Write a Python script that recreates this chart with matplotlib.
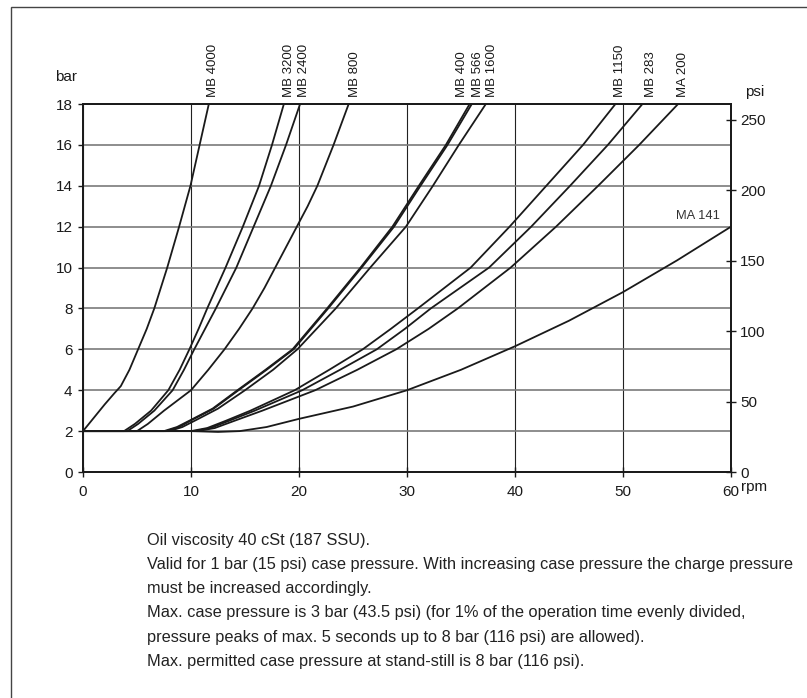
import matplotlib.pyplot as plt
from matplotlib.patches import Rectangle

# Datos (rpm, bar)
rpm_mb4000 = [0, 1.0, 2.0, 2.9, 3.5, 4.3, 5.1, 5.9, 6.6, 7.8, 8.9, 9.95, 10.8, 11.65]
bar_mb4000 = [2, 2.65, 3.3, 3.85, 4.2, 5.0, 6.0, 7.0, 8.0, 10, 12, 14, 16, 18]

bar_std = [2, 2, 2.35, 3.0, 4, 5, 6, 7, 8, 9, 10, 11, 12, 13, 14, 15, 16, 17, 18]
rpm_mb3200 = [0, 3.8, 4.8, 6.3, 7.9, 8.95, 9.85, 10.7, 11.5, 12.35, 13.2, 14.0, 14.8, 15.55,
              16.3, 16.9, 17.5, 18.05, 18.6]
rpm_mb2400 = [0, 4.1, 5.1, 6.6, 8.3, 9.35, 10.3, 11.3, 12.3, 13.25, 14.2, 15.0, 15.8, 16.6,
              17.4, 18.1, 18.8, 19.45, 20.1]
rpm_mb800 = [0, 5.0, 6.0, 7.5, 10.0, 11.6, 13.1, 14.45, 15.7, 16.8, 17.8, 18.8, 19.8, 20.8,
             21.7, 22.45, 23.2, 23.9, 24.6]

bar_mid = [2, 2, 2.2, 2.55, 3.1, 4.0, 5.0, 6, 8, 10, 12, 14, 16, 18]
rpm_mb400 = [0, 7.5, 8.7, 10.0, 12.0, 14.3, 16.9, 19.4, 22.6, 25.7, 28.65, 31.1, 33.6, 35.8]
rpm_mb566 = [0, 7.7, 8.9, 10.1, 12.1, 14.4, 17.0, 19.5, 22.7, 25.8, 28.8, 31.25, 33.75, 36.0]
rpm_mb1600 = [0, 8.0, 9.2, 10.5, 12.5, 15.0, 17.6, 19.85, 23.4, 26.6, 29.9, 32.4, 34.8, 37.3]

bar_low = [2, 2, 2.15, 2.5, 3.0, 4, 5, 6, 7, 8, 10, 12, 14, 16, 18]
rpm_mb1150 = [0, 10.0, 11.5, 13.2, 15.5, 19.6, 22.8, 25.9, 28.5, 31.0, 35.9, 39.5, 42.9, 46.3, 49.3]
rpm_mb283 = [0, 10.3, 11.8, 13.5, 15.9, 20.3, 23.8, 27.2, 29.8, 32.2, 37.6, 41.5, 45.1, 48.6, 51.8]
rpm_ma200 = [0, 10.6, 12.2, 14.0, 16.6, 21.5, 25.4, 29.0, 32.0, 34.7, 39.6, 43.8, 47.7, 51.5, 55.1]

rpm_ma141 = [0, 10, 12.5, 14.5, 17, 20, 25, 30, 35, 40, 45, 50, 55, 60]
bar_ma141 = [2, 2, 1.96, 2.0, 2.2, 2.6, 3.2, 4.0, 5.0, 6.15, 7.4, 8.8, 10.35, 12.0]

curvas = [
    (rpm_mb4000, bar_mb4000), (rpm_mb3200, bar_std), (rpm_mb2400, bar_std),
    (rpm_mb800, bar_std), (rpm_mb400, bar_mid), (rpm_mb566, bar_mid),
    (rpm_mb1600, bar_mid), (rpm_mb1150, bar_low), (rpm_mb283, bar_low),
    (rpm_ma200, bar_low), (rpm_ma141, bar_ma141),
]

# Etiquetas verticales arriba del grafico
etiquetas = ['MB 4000', 'MB 3200', 'MB 2400', 'MB 800', 'MB 400', 'MB 566',
             'MB 1600', 'MB 1150', 'MB 283', 'MA 200']
etiquetas_x = [12.0, 19.1, 20.5, 25.2, 35.1, 36.6, 37.9, 49.7, 52.6, 55.6]

notas = [
    'Oil viscosity 40 cSt (187 SSU).',
    'Valid for 1 bar (15 psi) case pressure. With increasing case pressure the charge pressure',
    'must be increased accordingly.',
    'Max. case pressure is 3 bar (43.5 psi) (for 1% of the operation time evenly divided,',
    'pressure peaks of max. 5 seconds up to 8 bar (116 psi) are allowed).',
    'Max. permitted case pressure at stand-still is 8 bar (116 psi).',
]

plt.rcParams['font.family'] = ['Liberation Sans', 'DejaVu Sans']

fig = plt.figure(figsize=(8.07, 6.98), dpi=100)
ax = fig.add_axes([83 / 807, 1 - 472 / 698, 648 / 807, 368 / 698])

for xs, ys in curvas:
    ax.plot(xs, ys, color='#1a1a1a', lw=1.3, solid_joinstyle='round', zorder=3)

ax.set_xlim(0, 60)
ax.set_ylim(0, 18)
ax.set_xticks(range(0, 61, 10))
ax.set_yticks(range(0, 19, 2))
ax.yaxis.grid(True, color='#7a7a7a', lw=1.2)
ax.xaxis.grid(True, color='#222222', lw=0.8)
ax.set_axisbelow(True)
for s in ax.spines.values():
    s.set_linewidth(1.3)
    s.set_color('#1a1a1a')
ax.tick_params(axis='y', direction='out', length=3.5, width=1, labelsize=11, pad=4, colors='#1a1a1a')
ax.tick_params(axis='x', direction='inout', length=7, width=1, labelsize=11, pad=6, colors='#1a1a1a')

ax2 = ax.twinx()
ax2.set_ylim(0, 18 * 14.5)
ax2.set_yticks(range(0, 251, 50))
ax2.tick_params(axis='y', direction='inout', length=7, width=1, labelsize=11, pad=3, colors='#1a1a1a')
for s in ax2.spines.values():
    s.set_linewidth(1.3)
    s.set_color('#1a1a1a')

for lab, x in zip(etiquetas, etiquetas_x):
    ax.text(x, 18.35, lab, rotation=90, ha='center', va='bottom', fontsize=9.5, color='#1a1a1a')
ax.text(56.9, 12.5, 'MA 141', ha='center', va='center', fontsize=9.3, color='#333333')

ax.text(-1.6, 19.3, 'bar', ha='center', va='center', fontsize=11, color='#1a1a1a')
ax.text(62.2, 18.6, 'psi', ha='center', va='center', fontsize=11, color='#1a1a1a')
ax.text(62.1, -0.75, 'rpm', ha='center', va='center', fontsize=11, color='#1a1a1a')

# Marco
fig.add_artist(Rectangle((11 / 807, -0.05), 1.2, 1.05 - 7.5 / 698,
                         transform=fig.transFigure, fill=False, lw=1.0,
                         edgecolor='#444444'))

y0 = 540
for i, linea in enumerate(notas):
    fig.text(147 / 807, 1 - (y0 + i * 24.3) / 698, linea, ha='left', va='center',
             fontsize=11.8, color='#222222')

fig.savefig('out.png', dpi=100)
